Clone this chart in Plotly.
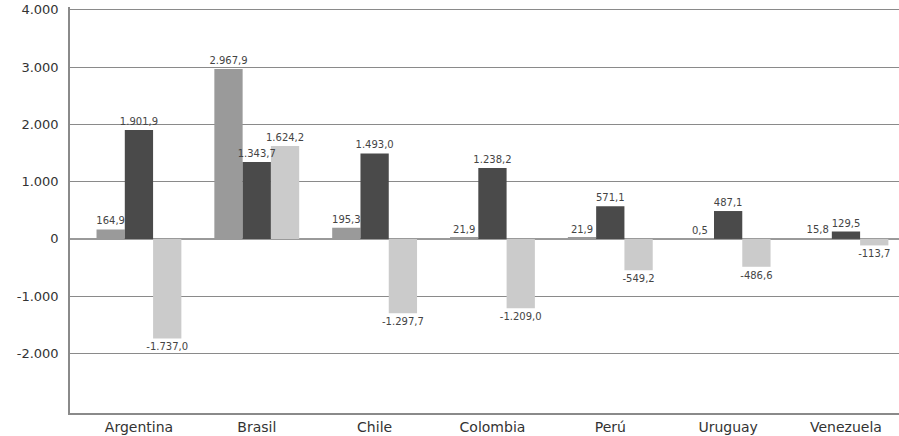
import plotly.graph_objects as go

# Countries and the three series per country
countries = ["Argentina", "Brasil", "Chile", "Colombia", "Perú", "Uruguay", "Venezuela"]
serie_a = [164.9, 2967.9, 195.3, 21.9, 21.9, 0.5, 15.8]
serie_b = [1901.9, 1343.7, 1493.0, 1238.2, 571.1, 487.1, 129.5]
serie_c = [-1737.0, 1624.2, -1297.7, -1209.0, -549.2, -486.6, -113.7]

tick_vals = [-2000, -1000, 0, 1000, 2000, 3000, 4000]
tick_text = ["-2.000", "-1.000", "0", "1.000", "2.000", "3.000", "4.000"]

colors = ["#9a9a9a", "#4a4a4a", "#cbcbcb"]
font_family = "DejaVu Sans"
series = [("A", serie_a), ("B", serie_b), ("C", serie_c)]

fig = go.Figure()
# Filled bars first
for (name, vals), col in zip(series, colors):
    fig.add_trace(go.Bar(
        x=countries, y=vals, name=name, offsetgroup=name,
        marker=dict(color=col, line=dict(width=0)),
        hoverinfo="skip",
    ))
# Value labels on transparent copies, so every label sits above all bars
for name, vals in series:
    fig.add_trace(go.Bar(
        x=countries, y=vals, name=name, offsetgroup=name,
        marker=dict(color="rgba(0,0,0,0)", line=dict(width=0)),
        texttemplate="%{y:,.1f}",
        textposition="outside",
        textfont=dict(family=font_family, size=10, color="#444444"),
        constraintext="none",
        cliponaxis=False,
    ))

fig.update_layout(
    width=899, height=436,
    margin=dict(l=70, r=0, t=7, b=23),
    paper_bgcolor="white", plot_bgcolor="white",
    barmode="group", bargap=0.28, bargroupgap=0,
    separators=",.",
    showlegend=False,
    font=dict(family=font_family, color="#333333"),
)
fig.update_xaxes(
    range=[-0.585, 6.45],
    showline=True, linecolor="#8a8a8a", linewidth=1.5, mirror=False,
    showgrid=False, ticks="",
    tickfont=dict(family=font_family, size=14, color="#333333"),
)
fig.update_yaxes(
    range=[-3040, 4050],
    tickvals=tick_vals, ticktext=tick_text,
    showgrid=True, gridcolor="#8a8a8a", gridwidth=1,
    zeroline=True, zerolinecolor="#9a9a9a", zerolinewidth=1.5,
    showline=True, linecolor="#8a8a8a", linewidth=1.5,
    ticks="", ticklabelstandoff=7,
    tickfont=dict(family=font_family, size=13, color="#333333"),
)

fig.write_html("out.html")
